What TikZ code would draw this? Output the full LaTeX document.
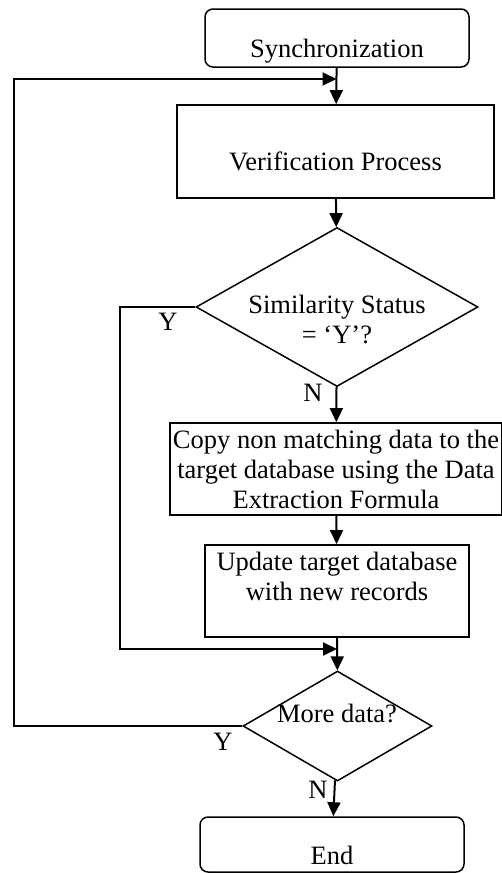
\documentclass[tikz,border=0pt]{standalone}
\usepackage{fontspec}
\setmainfont{Liberation Serif}
\usetikzlibrary{shapes.geometric,arrows.meta}

\begin{document}
\begin{tikzpicture}[x=1pt,y=-1pt,font=\fontsize{26.5}{30}\selectfont,
  terminal/.style={draw,line width=1.5pt,rounded corners=8pt,inner sep=0pt,minimum width=264pt},
  process/.style={draw,line width=1.8pt,inner sep=0pt},
  decision/.style={draw,diamond,line width=1.5pt,inner sep=0pt},
  flow/.style={line width=2pt,-{Triangle[length=14pt,width=13pt]}}]
  \useasboundingbox (0,0) rectangle (502,873);
  \node at (337,38) [terminal,text height=48pt,text depth=10pt] (sync) {Synchronization};
  \node at (335.5,151.5) [process,minimum width=317pt,text height=65pt,text depth=28pt] (verif) {Verification Process};
  \node at (337,307) [decision,minimum width=282pt,minimum height=159pt] (sim) {};
  \node at (337,319) [align=center] (simtext) {Similarity Status\\= ‘Y’?};
  \node at (336,469) [process,minimum width=332pt,minimum height=92pt,align=center] (copy) {Copy non matching data to the\\target database using the Data\\Extraction Formula};
  \node at (337,591) [process,minimum width=264pt,minimum height=92pt,align=center] (update) {Update target database\\with new records\\\mbox{}};
  \node at (337.5,726) [decision,minimum width=189pt,minimum height=110pt] (more) {};
  \node at (337,713) (moretext) {More data?};
  \node at (332,844.5) [terminal,text height=47pt,text depth=8pt] (end) {End};
  \node at (168,322) (simY) {Y};
  \node at (313,393) (simN) {N};
  \node at (223,742) (moreY) {Y};
  \node at (318,790) (moreN) {N};
  \coordinate (j1) at (336.5,79);
  \coordinate (j2) at (337,649);
  \draw[flow] (sync) -- (verif);
  \draw[flow] (verif) -- (sim);
  \draw[flow] (sim) -- (copy);
  \draw[flow] (copy) -- (update);
  \draw[flow] (update) -- (more);
  \draw[flow] (more) -- (end);
  \draw[flow] (sim.west) -- ++(-75,0) |- (j2);
  \draw[flow] (more.west) -- ++(-228,0) |- (j1);
\end{tikzpicture}
\end{document}
